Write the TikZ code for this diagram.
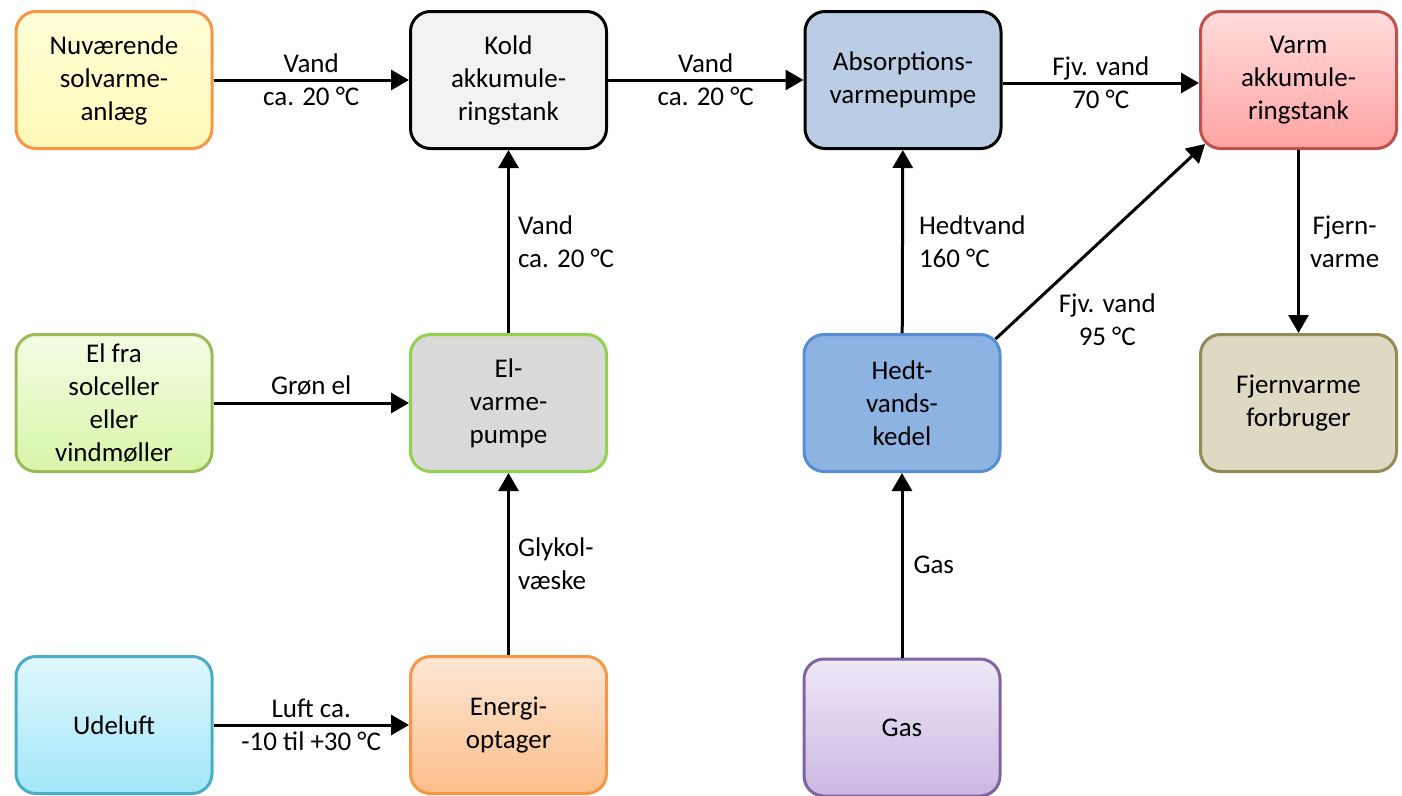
\documentclass[tikz,border=0pt]{standalone}
\usepackage{fontspec}
\setmainfont{Carlito}
\usetikzlibrary{arrows.meta, positioning, calc}

\definecolor{orangeline}{HTML}{F79646}
\definecolor{redline}{HTML}{C0504D}
\definecolor{greenline}{HTML}{9BBB59}
\definecolor{limeline}{HTML}{92D050}
\definecolor{blueline}{HTML}{558ED5}
\definecolor{oliveline}{HTML}{948A54}
\definecolor{aqualine}{HTML}{4BACC6}
\definecolor{purpleline}{HTML}{8064A2}

\begin{document}
\begin{tikzpicture}[x=1pt, y=-1pt,
    every node/.style={font=\fontsize{27}{33}\selectfont},
    box/.style={draw, line width=3pt, rounded corners=20pt, minimum width=196pt,
                minimum height=137pt, align=center, inner sep=0pt},
    flow/.style={-{Triangle[length=18pt,width=20pt]}, line width=3pt},
    lbl/.style={align=center, inner sep=0pt},
    side/.style={align=left, inner sep=0pt, anchor=west}]
    \useasboundingbox (0,0) rectangle (1402,795);

    % Top row
    \node[box, draw=orangeline, top color={rgb,255:red,255;green,255;blue,215}, bottom color={rgb,255:red,255;green,249;blue,184}]
        (sol) at (114,80) {Nuværende\\solvarme-\\anlæg};
    \node[box, draw=black, fill={rgb,255:red,242;green,242;blue,242}]
        (kold) at (508.5,80) {Kold\\akkumule-\\ringstank};
    \node[box, draw=black, fill={rgb,255:red,185;green,205;blue,229}]
        (absorb) at (903,80) {Absorptions-\\varmepumpe};
    \node[box, draw=redline, top color={rgb,255:red,255;green,220;blue,220}, bottom color={rgb,255:red,255;green,163;blue,163}]
        (varm) at (1298.5,80) {Varm\\akkumule-\\ringstank};

    % Middle row
    \node[box, draw=greenline, top color={rgb,255:red,243;green,253;blue,228}, bottom color={rgb,255:red,215;green,245;blue,168}]
        (elfra) at (114,403) {El fra\\solceller\\eller\\vindmøller};
    \node[box, draw=limeline, fill={rgb,255:red,217;green,217;blue,217}]
        (elvp) at (508.5,403) {El-\\varme-\\pumpe};
    \node[box, draw=blueline, fill={rgb,255:red,141;green,179;blue,226}]
        (kedel) at (902,403) {Hedt-\\vands-\\kedel};
    \node[box, draw=oliveline, fill={rgb,255:red,221;green,217;blue,195}]
        (forbr) at (1298.5,403) {Fjernvarme\\forbruger};

    % Bottom row
    \node[box, draw=aqualine, top color={rgb,255:red,224;green,247;blue,253}, bottom color={rgb,255:red,162;green,230;blue,249}]
        (ude) at (114,725) {Udeluft};
    \node[box, draw=orangeline, top color={rgb,255:red,253;green,231;blue,212}, bottom color={rgb,255:red,251;green,190;blue,138}]
        (energi) at (508.5,725) {Energi-\\optager};
    \node[box, draw=purpleline, top color={rgb,255:red,238;green,232;blue,246}, bottom color={rgb,255:red,203;green,183;blue,226}]
        (gas) at (902,727.5) {Gas};

    % Flows
    \draw[flow] (sol) -- node[lbl] (vand1) {Vand\\ca. 20 °C} (kold);
    \draw[flow] (kold) -- node[lbl] (vand2) {Vand\\ca. 20 °C} (absorb);
    \draw[flow] (absorb.east |- 0,83) -- node[lbl] (fjv70) {Fjv. vand\\70 °C} (varm.west |- 0,83);
    \draw[flow] (elvp) -- node[side, xshift=8pt] (vand3) {Vand\\ca. 20 °C} (kold);
    \draw[flow] (elfra) -- node[lbl, yshift=17pt] (groen) {Grøn el} (elvp);
    \draw[flow] (energi) -- node[side, xshift=8pt] (glykol) {Glykol-\\væske} (elvp);
    \draw[flow] (ude) -- node[lbl] (luft) {Luft ca.\\-10 til +30 °C} (energi);
    \draw[flow] (kedel) -- node[side, xshift=15pt] (hedtv) {Hedtvand\\160 °C} (absorb);
    \draw[flow] ($(kedel.north east)+(-6,6)$) -- node[lbl, xshift=7pt, yshift=-78pt] (fjv95) {Fjv. vand\\95 °C} ($(varm.south west)+(6,-6)$);
    \draw[flow] (gas) -- node[side, xshift=10pt] (gasl) {Gas} (kedel);
    \draw[flow] (varm) -- node[side, xshift=10pt, align=center] (fjern) {Fjern-\\varme} (forbr);
\end{tikzpicture}
\end{document}
